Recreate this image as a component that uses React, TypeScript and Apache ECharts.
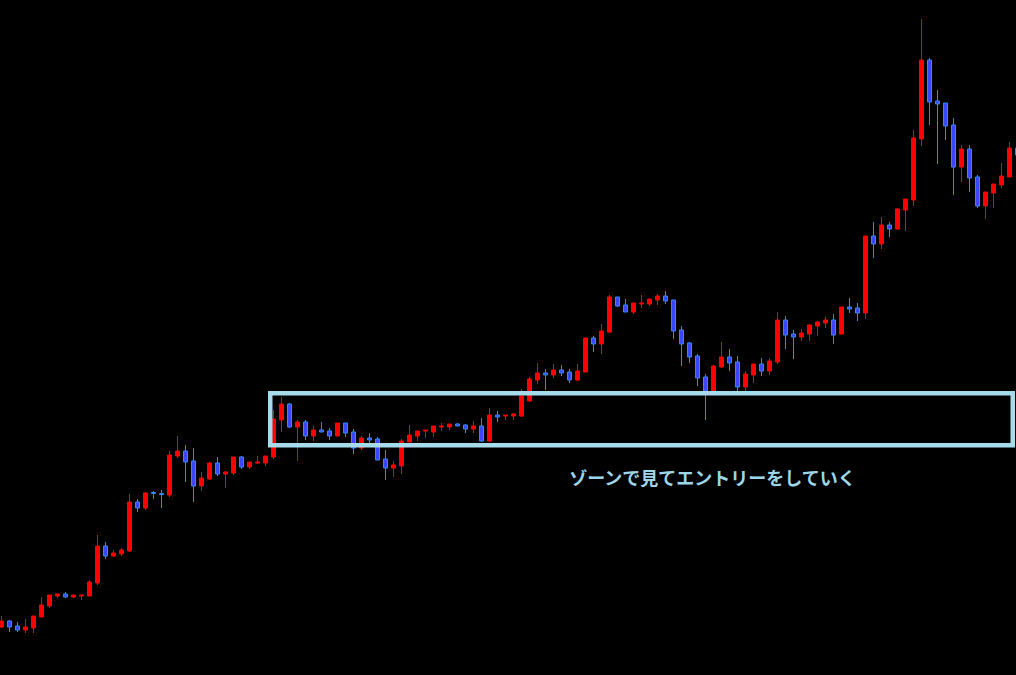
import React, { useEffect, useRef } from "react";
import * as echarts from "echarts";

// Candle values (arbitrary price units)
const opens = [
  48, 54, 49, 45, 47, 58, 69, 79, 81, 78, 79, 79, 92, 129, 119, 121,
  124, 173, 167, 182.5, 181.5, 180, 219, 224, 214, 189, 196, 212, 201, 202, 218, 208,
  212, 212, 218, 255, 271, 248, 253, 239, 245, 244, 239, 252, 243, 227, 237, 236,
  216, 207, 209, 233, 239, 244, 243, 248, 248, 251, 250, 246, 249, 234, 260, 259,
  259, 259, 274, 295, 302, 300, 305, 303, 295, 303, 337, 331, 343, 378, 370, 363,
  371, 371, 375, 379, 375, 345, 332, 319, 298, 283, 308, 318, 313, 288, 300, 311,
  304, 313, 355, 341, 338, 341, 349, 352, 355, 341, 368, 367, 362, 439, 431, 450,
  446, 465, 475, 536, 615, 574, 572, 550, 508, 526, 498, 469, 482, 490, 498, 527,
];
const closes = [
  54, 48, 45, 48, 59, 70, 80, 81, 78, 80, 80, 93, 129, 119, 122, 125,
  173, 167, 182, 181.5, 180.5, 220, 224, 213, 189, 197, 212, 201, 203, 218, 208, 213,
  213, 219, 256, 271, 248, 253, 239, 245, 243, 239, 252, 242, 227, 237, 235, 215,
  207, 210, 234, 240, 244, 245, 249, 249, 251, 249, 246, 249, 234, 260, 258, 260,
  261, 279, 296, 302, 300, 305, 302, 295, 304, 337, 331, 344, 378, 369, 363, 372,
  372, 376, 379, 374, 344, 331, 318, 297, 284, 309, 318, 312, 288, 301, 311, 304,
  314, 355, 340, 338, 342, 350, 353, 355, 340, 368, 366, 362, 439, 431, 450, 446,
  466, 476, 537, 615, 573, 571, 549, 508, 526, 497, 469, 483, 491, 499, 527, 520,
];
const lows = [
  47, 43, 43, 42, 42, 58, 67, 77, 77, 77, 75, 79, 90, 116, 118, 119,
  123, 163, 165, 176, 167, 178, 217, 193, 173, 184, 195, 199, 187, 200, 206, 206,
  211, 209, 216, 243, 247, 214, 235, 234, 243, 235, 239, 238, 221, 225, 232, 215,
  195, 198, 201, 233, 234, 237, 238, 244, 245, 249, 242, 242, 233, 233, 253, 255,
  255, 258, 273, 291, 285, 297, 299, 292, 294, 303, 323, 321, 342, 368, 363, 361,
  367, 369, 370, 371, 336, 309, 312, 289, 255, 282, 307, 304, 284, 284, 292, 299,
  300, 311, 326, 316, 334, 334, 339, 347, 331, 341, 362, 354, 356, 417, 426, 438,
  445, 444, 469, 529, 550, 511, 535, 480, 493, 483, 467, 456, 467, 487, 498, 515,
];
const highs = [
  59, 55, 53, 56, 59, 78, 80, 81, 83, 80, 80, 95, 140, 133, 125, 127,
  181, 176, 183, 184, 185, 224, 239, 230, 227, 203, 213, 218, 204, 218, 219, 213,
  219, 219, 265, 278, 272, 255, 255, 249, 253, 247, 252, 252, 246, 239, 242, 238,
  225, 214, 236, 250, 244, 245, 249, 252, 251, 252, 251, 254, 257, 267, 264, 260,
  262, 286, 298, 312, 306, 311, 310, 306, 311, 337, 339, 351, 380, 378, 376, 372,
  380, 376, 381, 384, 375, 349, 333, 321, 301, 310, 333, 326, 319, 304, 311, 317,
  317, 363, 359, 345, 346, 351, 354, 358, 361, 368, 377, 372, 439, 453, 458, 453,
  467, 476, 545, 656, 617, 585, 572, 557, 530, 530, 500, 483, 491, 512, 533, 528,
];
const categories = opens.map((_, i) => String(i + 1));

const annotation = "ゾーンで見てエントリーをしていく";

export default function App() {
  const ref = useRef<HTMLDivElement>(null);

  useEffect(() => {
    if (!ref.current) return;
    const chart = echarts.init(ref.current, null, { renderer: "svg" });
    const candleData = opens.map((o, i) => [o, closes[i], lows[i], highs[i]]);
    chart.setOption({
      animation: false,
      backgroundColor: "#000000",
      grid: { left: 0.5, right: 0.5, top: 0, bottom: 0 },
      xAxis: {
        type: "category",
        data: categories,
        boundaryGap: true,
        show: false,
      },
      yAxis: {
        type: "value",
        min: 0,
        max: 675,
        show: false,
        splitLine: { show: false },
      },
      series: [
        {
          type: "candlestick",
          data: candleData,
          barWidth: 4,
          clip: false,
          itemStyle: {
            color: "#FF0000",
            borderColor: "#FF0000",
            color0: "#3C46FF",
            borderColor0: "#2A8CFF",
            borderWidth: 1,
          },
        },
      ],
      graphic: [
        {
          type: "rect",
          z: 100,
          shape: { x: 273.25, y: 393.25, width: 742.5, height: 52 },
          style: { fill: "none", stroke: "#A5DCEB", lineWidth: 4.5 },
        },
        {
          type: "text",
          z: 100,
          x: 715.5,
          y: 477,
          style: {
            text: annotation,
            fill: "#9DD6E8",
            font: 'bold 18px "Noto Sans CJK JP", sans-serif',
            align: "center",
            verticalAlign: "middle",
          },
        },
      ],
    });
    return () => chart.dispose();
  }, []);

  return (
    <div
      ref={ref}
      style={{
        position: "fixed",
        left: -3,
        top: 0,
        width: 1025,
        height: 675,
        background: "#000000",
      }}
    />
  );
}
